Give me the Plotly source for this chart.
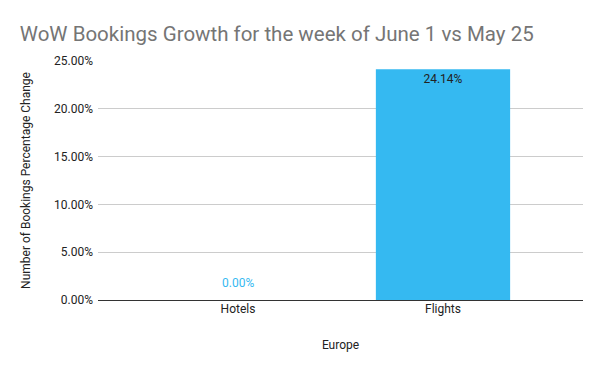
import plotly.graph_objects as go

categories = ["Hotels", "Flights"]
values = [0.0, 24.14]
tick_vals = [0, 5, 10, 15, 20, 25]
tick_text = ["0.00%", "5.00%", "10.00%", "15.00%", "20.00%", "25.00%"]

BAR = "#35b9f1"

fig = go.Figure(
    go.Bar(
        x=categories,
        y=values,
        marker=dict(color=BAR, line=dict(width=0)),
        width=0.655,
        text=[f"{v:.2f}%" if v != 0 else "" for v in values],
        textposition="inside",
        insidetextanchor="end",
        insidetextfont=dict(color="#222222", size=12, family="Roboto"),
        cliponaxis=False,
        hoverinfo="skip",
    )
)

# labels for zero-height bars sit above the axis in the bar colour
for c, v in zip(categories, values):
    if v == 0:
        fig.add_annotation(
            x=c, y=v, text=f"{v:.2f}%", showarrow=False,
            yanchor="middle", yshift=17,
            font=dict(color=BAR, size=12, family="Roboto"),
        )

fig.update_layout(
    width=600,
    height=371,
    margin=dict(l=98, r=17, t=61, b=71),
    paper_bgcolor="white",
    plot_bgcolor="white",
    font=dict(family="Roboto", size=12, color="#222222"),
    title=dict(
        text="WoW Bookings Growth for the week of June 1 vs May 25",
        x=0.033, xanchor="left", y=0.91, yanchor="middle",
        font=dict(family="Roboto", size=20.5, color="#757575"),
    ),
    showlegend=False,
    bargap=0.35,
)

fig.update_xaxes(
    range=[-0.683, 1.683],
    showgrid=False,
    showline=False,
    ticks="",
    automargin=False,
    tickfont=dict(size=12, color="#222222"),
    title=dict(text="Europe", font=dict(size=12, color="#222222"), standoff=25),
)
fig.update_yaxes(
    range=[0, 25],
    tickvals=tick_vals,
    ticktext=tick_text,
    showgrid=True,
    gridcolor="#cccccc",
    gridwidth=1,
    zeroline=True,
    zerolinecolor="#333333",
    zerolinewidth=1.3,
    ticks="",
    ticklabelstandoff=4,
    automargin=False,
    tickfont=dict(size=12, color="#222222"),
    title=dict(text="Number of Bookings Percentage Change",
               font=dict(size=12, color="#222222"), standoff=20),
)

fig.write_html(
    "out.html",
    config={"displayModeBar": False},
    post_script="document.body.style.margin='0';document.body.style.padding='0';",
)
